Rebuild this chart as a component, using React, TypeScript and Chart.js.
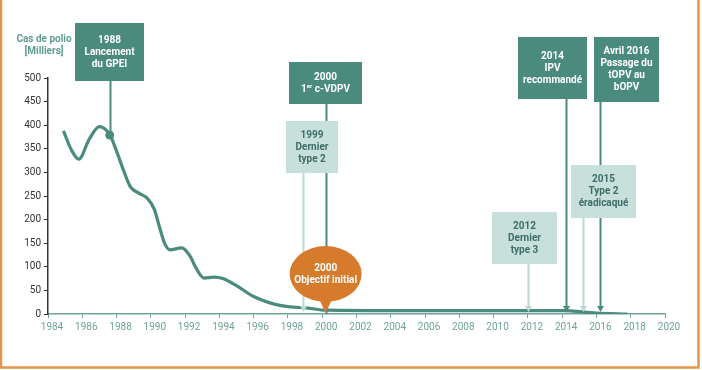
import React, { useEffect, useRef } from "react";
import { Chart, registerables } from "chart.js";

Chart.register(...registerables);

// ---- Data ----
const caseYears = [1984.9, 1985.4, 1985.8, 1986.4, 1987.0, 1987.6, 1988.0, 1988.4, 1988.8, 1989.3, 1989.8, 1990.2, 1990.5, 1990.8, 1991.1, 1991.8, 1992.3, 1992.6, 1993.1, 1993.7, 1994.2, 1995.0, 1996.0, 1997.2, 1998.1, 1999.1, 2000.2, 2005.0, 2010.0, 2014.0, 2016.0, 2017.8];
const caseValues = [388, 345, 328, 370, 397, 380, 345, 305, 270, 256, 245, 222, 185, 150, 136, 140, 122, 100, 76, 78, 75, 60, 37, 21, 15, 13, 8, 7, 7, 7, 2, 0];

const markerYear = 1987.6;
const markerValue = 379;

const eventYears = [1987.6, 2000.2, 1998.9, 2014.2, 2016.2, 2015.2, 2012.0];
const eventTexts = [
  ["1988", "Lancement", "du GPEI"],
  ["2000", "1er c-VDPV"],
  ["1999", "Dernier", "type 2"],
  ["2014", "IPV", "recommandé"],
  ["Avril 2016", "Passage du", "tOPV au", "bOPV"],
  ["2015", "Type 2", "éradicaqué"],
  ["2012", "Dernier", "type 3"],
];
const goalYear = 2000.2;
const goalText = ["2000", "Objectif initial"];

const axisTitle = ["Cas de polio", "[Milliers]"];

// ---- Styles ----
const FONT = "Roboto, 'Noto Sans', sans-serif";
const TEAL = "#4a8b7e";
const LIGHT = "#c8e0dc";
const LIGHT_TEXT = "#3c6e65";
const LIGHT_LINE = "#b9d8d3";
const ORANGE = "#d67a2c";
const FRAME = "#e3954b";

export default function App() {
  const ref = useRef<HTMLCanvasElement | null>(null);

  useEffect(() => {
    document.body.style.margin = "0";
    const canvas = ref.current;
    if (!canvas) return;

    // layout for overlay boxes (pixel geometry)
    const boxes = [
      { l: 75, t: 23, w: 69, h: 58, dark: true },
      { l: 289, t: 62, w: 73, h: 42, dark: true },
      { l: 286, t: 121, w: 52, h: 52, dark: false },
      { l: 518, t: 37, w: 69, h: 62, dark: true },
      { l: 594, t: 37, w: 65, h: 65, dark: true },
      { l: 571, t: 165, w: 65, h: 53, dark: false },
      { l: 492, t: 212, w: 65, h: 52, dark: false },
    ];

    const drawLines = (ctx: CanvasRenderingContext2D, lines: string[], cx: number, cy: number, color: string) => {
      const lh = 12;
      ctx.fillStyle = color;
      ctx.font = `bold 10px ${FONT}`;
      ctx.textAlign = "center";
      ctx.textBaseline = "middle";
      const y0 = cy - ((lines.length - 1) * lh) / 2;
      lines.forEach((ln, i) => {
        const y = y0 + i * lh;
        if (ln.startsWith("1er ")) {
          const rest = ln.slice(3);
          ctx.font = `bold 10px ${FONT}`;
          const w1 = ctx.measureText("1").width;
          const w3 = ctx.measureText(rest).width;
          ctx.font = `bold 6px ${FONT}`;
          const w2 = ctx.measureText("er").width;
          const total = w1 + w2 + w3;
          let x = cx - total / 2;
          ctx.textAlign = "left";
          ctx.font = `bold 10px ${FONT}`;
          ctx.fillText("1", x, y);
          x += w1;
          ctx.font = `bold 6px ${FONT}`;
          ctx.fillText("er", x, y - 3);
          x += w2;
          ctx.font = `bold 10px ${FONT}`;
          ctx.fillText(rest, x, y);
          ctx.textAlign = "center";
        } else {
          ctx.fillText(ln, cx, y);
        }
      });
    };

    const arrow = (ctx: CanvasRenderingContext2D, x: number, tip: number, color: string) => {
      ctx.fillStyle = color;
      ctx.beginPath();
      ctx.moveTo(x - 3.5, tip - 6);
      ctx.lineTo(x + 3.5, tip - 6);
      ctx.lineTo(x, tip);
      ctx.closePath();
      ctx.fill();
    };

    const overlay = {
      id: "overlay",
      beforeDraw(chart: any) {
        const ctx = chart.ctx as CanvasRenderingContext2D;
        ctx.save();
        ctx.fillStyle = "#ffffff";
        ctx.fillRect(0, 0, chart.width, chart.height);
        ctx.restore();
      },
      afterDatasetsDraw(chart: any) {
        const ctx = chart.ctx as CanvasRenderingContext2D;
        const xs = chart.scales.x;
        const ys = chart.scales.y;
        const y0 = ys.getPixelForValue(0);
        ctx.save();
        // connector lines
        eventYears.forEach((yr, i) => {
          const b = boxes[i];
          const x = Math.round(xs.getPixelForValue(yr)) + 0.5;
          const color = b.dark ? TEAL : LIGHT_LINE;
          let end = y0 - 2;
          if (i === 0) end = ys.getPixelForValue(markerValue);
          if (i === 1) end = y0;
          ctx.strokeStyle = color;
          ctx.lineWidth = 2;
          ctx.beginPath();
          ctx.moveTo(x, b.t + b.h);
          ctx.lineTo(x, i === 0 || i === 1 ? end : end - 5);
          ctx.stroke();
          if (i > 1) arrow(ctx, x, end, color);
        });
        // boxes
        eventYears.forEach((_, i) => {
          const b = boxes[i];
          ctx.fillStyle = b.dark ? TEAL : LIGHT;
          ctx.fillRect(b.l, b.t, b.w, b.h);
          drawLines(ctx, eventTexts[i], b.l + b.w / 2, b.t + b.h / 2, b.dark ? "#ffffff" : LIGHT_TEXT);
        });
        // goal bubble
        const gx = xs.getPixelForValue(goalYear);
        const cy = 274;
        ctx.fillStyle = ORANGE;
        ctx.beginPath();
        ctx.ellipse(gx, cy, 36, 28, 0, 0, Math.PI * 2);
        ctx.fill();
        ctx.beginPath();
        ctx.moveTo(gx - 7, cy + 24);
        ctx.lineTo(gx + 7, cy + 24);
        ctx.lineTo(gx, y0 - 1);
        ctx.closePath();
        ctx.fill();
        drawLines(ctx, goalText, gx, cy, "#ffffff");
        // axis title
        ctx.fillStyle = "#5f9d92";
        ctx.font = `bold 10px ${FONT}`;
        ctx.textAlign = "center";
        ctx.textBaseline = "middle";
        ctx.fillText(axisTitle[0], 44, 39);
        ctx.fillText(axisTitle[1], 44, 51);
        ctx.restore();
      },
      afterDraw(chart: any) {
        const ctx = chart.ctx as CanvasRenderingContext2D;
        ctx.save();
        ctx.strokeStyle = FRAME;
        ctx.lineWidth = 2.5;
        ctx.beginPath();
        ctx.moveTo(1, 0);
        ctx.lineTo(1, 367.5);
        ctx.lineTo(698.5, 367.5);
        ctx.lineTo(698.5, 0);
        ctx.stroke();
        ctx.restore();
      },
    };

    const chart = new Chart(canvas, {
      type: "line",
      data: {
        datasets: [
          {
            data: caseYears.map((x, i) => ({ x, y: caseValues[i] })),
            borderColor: TEAL,
            borderWidth: 3.2,
            pointRadius: 0,
            tension: 0.4,
            cubicInterpolationMode: "monotone",
            fill: false,
          },
          {
            type: "scatter",
            data: [{ x: markerYear, y: markerValue }],
            backgroundColor: TEAL,
            borderColor: TEAL,
            pointRadius: 4,
          } as any,
        ],
      },
      options: {
        responsive: false,
        animation: false,
        layout: { padding: { top: 78, right: 37, left: 0, bottom: 0 } },
        plugins: { legend: { display: false }, tooltip: { enabled: false } },
        scales: {
          x: {
            type: "linear",
            min: 1984,
            max: 2020,
            afterFit: (s: any) => {
              s.height = 56;
            },
            ticks: {
              stepSize: 2,
              color: "#6fa39a",
              font: { family: FONT, size: 10 },
              padding: 3,
              labelOffset: 4,
              maxRotation: 0,
              callback: (v: any) => String(v),
            },
            grid: { drawOnChartArea: false, drawTicks: true, tickLength: 4, color: "#6fa39a", lineWidth: 1 },
            border: { display: true, color: "#6fa39a", width: 1.5 },
          },
          y: {
            min: 0,
            max: 500,
            afterFit: (s: any) => {
              s.width = 48;
            },
            ticks: {
              stepSize: 50,
              color: "#333333",
              font: { family: FONT, size: 10 },
              padding: 3,
            },
            grid: { drawOnChartArea: false, drawTicks: true, tickLength: 4, color: "#333333", lineWidth: 1 },
            border: { display: true, color: "#333333", width: 1.5 },
          },
        },
      },
      plugins: [overlay],
    } as any);

    return () => chart.destroy();
  }, []);

  return (
    <div style={{ width: 702, height: 370 }}>
      <canvas ref={ref} width={702} height={370} style={{ display: "block" }} />
    </div>
  );
}
